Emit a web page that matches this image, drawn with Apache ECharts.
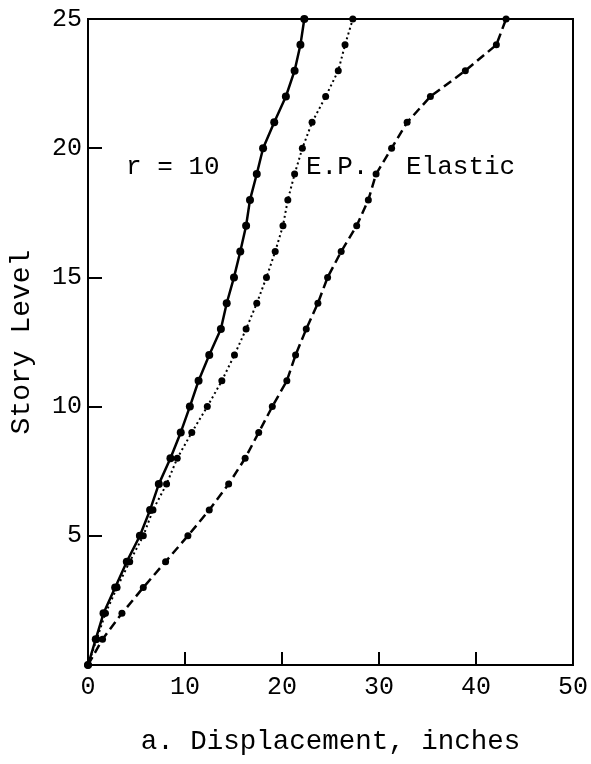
<!DOCTYPE html>
<html>
<head>
<meta charset="utf-8">
<script src="https://cdn.jsdelivr.net/npm/echarts@6/dist/echarts.min.js"></script>
<style>
html,body{margin:0;padding:0;background:#fff;}
#c{width:591px;height:764px;}
</style>
</head>
<body>
<div id="c"></div>
<script>
var levels = [0,1,2,3,4,5,6,7,8,9,10,11,12,13,14,15,16,17,18,19,20,21,22,23,24,25];
var dispR10 = [0,0.8,1.6,2.8,4.0,5.35,6.4,7.3,8.5,9.56,10.5,11.4,12.5,13.7,14.3,15.05,15.7,16.3,16.7,17.4,18.05,19.2,20.4,21.3,21.9,22.3];
var dispEP = [0,0.9,1.8,3.0,4.3,5.7,6.7,8.1,9.2,10.7,12.3,13.8,15.1,16.3,17.4,18.4,19.3,20.1,20.6,21.3,22.1,23.1,24.5,25.8,26.5,27.3];
var dispElastic = [0,1.5,3.5,5.7,8.0,10.3,12.5,14.5,16.2,17.6,19.0,20.5,21.4,22.5,23.7,24.7,26.1,27.7,28.9,29.7,31.3,32.9,35.3,38.9,42.1,43.1];
var labels = ["r = 10","E.P.","Elastic"];
var xTitle = "a. Displacement, inches";
var yTitle = "Story Level";

function pairs(d){ return d.map(function(v,i){ return [v, levels[i]]; }); }

var font = "Liberation Mono";
var chart = echarts.init(document.getElementById('c'), null, {renderer:'canvas'});
chart.setOption({
  backgroundColor:'#fff',
  animation:false,
  grid:{left:82,right:14,top:19,bottom:99,show:true,borderColor:'#000',borderWidth:2,backgroundColor:'transparent'},
  xAxis:{
    type:'value',min:0,max:50,interval:10,
    name:xTitle,nameLocation:'middle',nameGap:63,
    nameTextStyle:{fontFamily:font,fontSize:27.5,color:'#000'},
    axisLine:{show:true,lineStyle:{color:'#000',width:2}},
    axisTick:{show:true,inside:true,length:13,lineStyle:{color:'#000',width:2}},
    axisLabel:{fontFamily:font,fontSize:25,color:'#000',margin:10},
    splitLine:{show:false}
  },
  yAxis:{
    type:'value',min:0,max:25,interval:5,
    name:yTitle,nameLocation:'middle',nameGap:52,nameRotate:90,
    nameTextStyle:{fontFamily:font,fontSize:28,color:'#000'},
    axisLine:{show:true,lineStyle:{color:'#000',width:2}},
    axisTick:{show:true,inside:true,length:14,lineStyle:{color:'#000',width:2}},
    axisLabel:{fontFamily:font,fontSize:25,color:'#000',margin:6,showMinLabel:false},
    splitLine:{show:false}
  },
  series:[
    {type:'line',name:labels[0],data:pairs(dispR10),symbol:'circle',symbolSize:8,
     lineStyle:{color:'#000',width:2.5,type:'solid'},itemStyle:{color:'#000'}},
    {type:'line',name:labels[1],data:pairs(dispEP),symbol:'circle',symbolSize:7,
     lineStyle:{color:'#000',width:2,type:[2,3]},itemStyle:{color:'#000'}},
    {type:'line',name:labels[2],data:pairs(dispElastic),symbol:'circle',symbolSize:7,
     lineStyle:{color:'#000',width:2.5,type:[9,5]},itemStyle:{color:'#000'}}
  ],
  graphic:[
    {type:'text',left:126,top:154,style:{text:labels[0],font:'26px "Liberation Mono"',fill:'#000'}},
    {type:'text',left:306,top:154,style:{text:labels[1],font:'26px "Liberation Mono"',fill:'#000'}},
    {type:'text',left:406,top:154,style:{text:labels[2],font:'26px "Liberation Mono"',fill:'#000'}}
  ]
});
</script>
</body>
</html>
